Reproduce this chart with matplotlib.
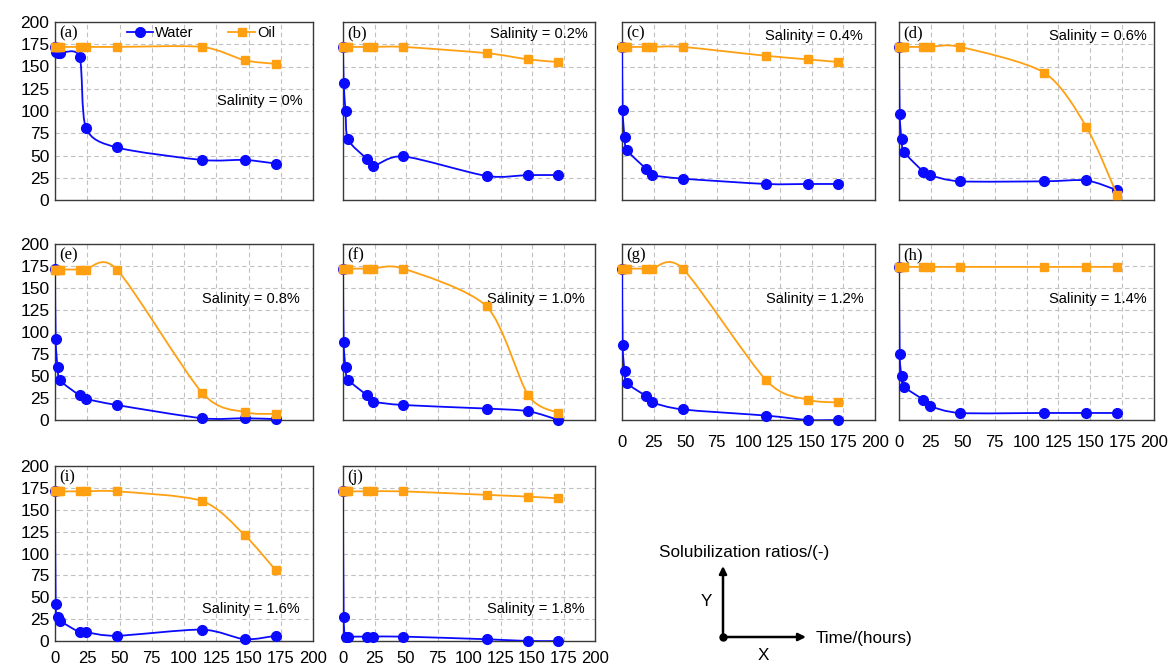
#!/usr/bin/env python3
"""
Solubilization ratios of water and oil vs. time for ten salinities.
Generates: out.png
"""
import numpy as np
import matplotlib
matplotlib.use('Agg')
import matplotlib.pyplot as plt
from matplotlib.path import Path
from matplotlib.patches import PathPatch
from matplotlib.lines import Line2D

BLUE = '#0a0aff'; ORANGE = '#ffa012'; GRID = '#c0c0c0'; EDGE = '#3a3a3a'
plt.rcParams.update({
    'font.family': ['Liberation Sans', 'DejaVu Sans'],
    'font.size': 11,
    'axes.edgecolor': EDGE,
})

# time (hours), shared by every panel
hours = [0, 0.5, 2, 4, 19, 24, 48, 114, 147, 171]
panel_tags = ['(a)', '(b)', '(c)', '(d)', '(e)', '(f)', '(g)', '(h)', '(i)', '(j)']
salinity = ['0%', '0.2%', '0.4%', '0.6%', '0.8%', '1.0%', '1.2%', '1.4%', '1.6%', '1.8%']

water_a = [172, 166, 165, 165, 161, 81, 59, 45, 45, 41]
water_b = [172, 132, 100, 68, 46, 38, 49, 27, 28, 28]
water_c = [172, 101, 71, 56, 35, 28, 24, 18, 18, 18]
water_d = [172, 97, 68, 54, 32, 28, 21, 21, 22, 11]
water_e = [172, 92, 60, 45, 28, 24, 17, 2, 2, 1]
water_f = [172, 89, 60, 46, 28, 21, 17, 13, 10, 0]
water_g = [172, 85, 56, 42, 27, 20, 12, 5, 0, 0]
water_h = [174, 75, 50, 38, 23, 16, 8, 8, 8, 8]
water_i = [172, 42, 28, 23, 10, 10, 6, 13, 2, 6]
water_j = [172, 27, 5, 5, 5, 5, 5, 2, 0, 0]

oil_a = [172, 172, 172, 172, 172, 172, 172, 172, 157, 153]
oil_b = [172, 172, 172, 172, 172, 172, 172, 165, 158, 155]
oil_c = [172, 172, 172, 172, 172, 172, 172, 162, 158, 155]
oil_d = [172, 172, 172, 172, 172, 172, 172, 143, 82, 6]
oil_e = [171, 171, 171, 171, 171, 171, 171, 31, 9, 7]
oil_f = [172, 172, 172, 172, 172, 172, 172, 129, 28, 8]
oil_g = [172, 172, 172, 172, 172, 172, 172, 45, 23, 20]
oil_h = [174, 174, 174, 174, 174, 174, 174, 174, 174, 174]
oil_i = [171, 171, 171, 171, 171, 171, 171, 160, 121, 81]
oil_j = [171, 171, 171, 171, 171, 171, 171, 167, 165, 163]

water = [water_a, water_b, water_c, water_d, water_e,
         water_f, water_g, water_h, water_i, water_j]
oil = [oil_a, oil_b, oil_c, oil_d, oil_e, oil_f, oil_g, oil_h, oil_i, oil_j]

# layout (pixels of a 1169x665 canvas)
W, H = 1169, 665
cols = [(55, 313), (343, 595), (622, 875), (899, 1154)]
rows = [(22, 200), (244, 420), (466, 641)]
grid_pos = [(0, 0), (0, 1), (0, 2), (0, 3), (1, 0), (1, 1), (1, 2), (1, 3), (2, 0), (2, 1)]
sal_pos = [(0.96, 0.555), (0.97, 0.93), (0.95, 0.92), (0.97, 0.92), (0.95, 0.69),
           (0.96, 0.69), (0.956, 0.69), (0.97, 0.69), (0.95, 0.18), (0.96, 0.18)]
TENSION = 0.135


def smooth_path(x, y):
    """Excel-like smoothed line: Catmull-Rom style segments as cubic Beziers."""
    p = np.column_stack([x, y]).astype(float)
    n = len(p)
    verts, codes = [p[0]], [Path.MOVETO]
    for i in range(n - 1):
        p0, p1, p2, p3 = p[max(i - 1, 0)], p[i], p[i + 1], p[min(i + 2, n - 1)]
        verts += [p1 + (p2 - p0) * TENSION, p2 - (p3 - p1) * TENSION, p2]
        codes += [Path.CURVE4] * 3
    return Path(verts, codes)


fig = plt.figure(figsize=(W / 100, H / 100), dpi=100)

for k in range(10):
    r, c = grid_pos[k]
    x0, x1 = cols[c]; y0, y1 = rows[r]
    ax = fig.add_axes([x0 / W, (H - y1) / H, (x1 - x0) / W, (y1 - y0) / H])
    ax.set_xlim(0, 200); ax.set_ylim(0, 200)
    ax.set_xticks(np.arange(0, 201, 25)); ax.set_yticks(np.arange(0, 201, 25))
    ax.grid(True, color=GRID, ls=(0, (4, 3)), lw=0.8)
    ax.set_axisbelow(True)
    for s in ax.spines.values():
        s.set_linewidth(1.0)
    ax.tick_params(length=0, labelsize=12)
    ax.tick_params(axis='y', pad=4, labelsize=12.5)
    ax.tick_params(axis='x', pad=(11 if r == 1 else 7.5))
    ax.tick_params(labelleft=(c == 0), labelbottom=(r == 2 or (r == 1 and c >= 2)))

    for ys, col, mk, ms, z in [(water[k], BLUE, 'o', 7.0, 3), (oil[k], ORANGE, 's', 6.3, 4)]:
        ax.add_patch(PathPatch(smooth_path(hours, ys), fill=False, edgecolor=col,
                               lw=1.3, zorder=z))
        ax.plot(hours, ys, ls='none', marker=mk, ms=ms, color=col, zorder=z + 0.5,
                clip_on=False)

    ax.text(0.016, 0.935, panel_tags[k], transform=ax.transAxes, ha='left', va='center',
            fontsize=12, family=['Liberation Serif', 'DejaVu Serif'])
    sx, sy = sal_pos[k]
    ax.text(sx, sy, 'Salinity = ' + salinity[k], transform=ax.transAxes,
            ha='right', va='center', fontsize=10.5)

    if k == 0:
        handles = [Line2D([], [], color=BLUE, marker='o', ms=7.0, lw=1.3),
                   Line2D([], [], color=ORANGE, marker='s', ms=6.3, lw=1.3)]
        ax.legend(handles, ['Water', 'Oil'], ncol=2, frameon=False, loc='center',
                  bbox_to_anchor=(0.565, 0.94), fontsize=10.5, handlelength=1.8,
                  handletextpad=0.15, columnspacing=2.4, borderpad=0)

# axis key in the empty corner
ov = fig.add_axes([0, 0, 1, 1])
ov.set_xlim(0, W); ov.set_ylim(H, 0)
ov.axis('off'); ov.set_facecolor('none')
ov.annotate('', xy=(806, 637), xytext=(723, 637),
            arrowprops=dict(arrowstyle='-|>', lw=1.8, color='black', mutation_scale=11,
                            shrinkA=0, shrinkB=0))
ov.annotate('', xy=(723, 566), xytext=(723, 637),
            arrowprops=dict(arrowstyle='-|>', lw=1.8, color='black', mutation_scale=11,
                            shrinkA=0, shrinkB=0))
ov.plot([723], [637], 'o', ms=5, color='black')
ov.text(659, 552, 'Solubilization ratios/(-)', ha='left', va='center', fontsize=12.3)
ov.text(706, 601, 'Y', ha='center', va='center', fontsize=12.3)
ov.text(816, 638, 'Time/(hours)', ha='left', va='center', fontsize=12.3)
ov.text(763, 655, 'X', ha='center', va='center', fontsize=12.3)

fig.savefig('out.png', dpi=100)
print('saved: out.png')
